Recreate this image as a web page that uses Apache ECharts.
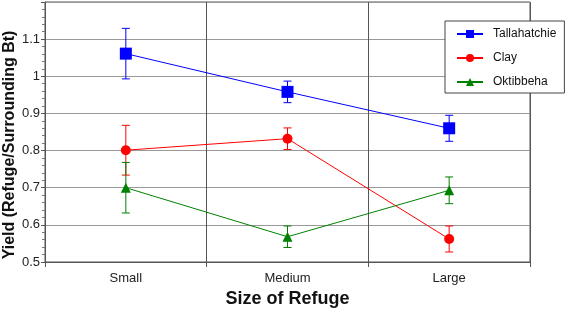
<!DOCTYPE html>
<html>
<head>
<meta charset="utf-8">
<script src="https://cdn.jsdelivr.net/npm/echarts@6/dist/echarts.min.js"></script>
<style>
  html, body { margin: 0; padding: 0; background: #fff; }
  #chart { width: 566px; height: 311px; }
</style>
</head>
<body>
<div id="chart"></div>
<script>
const categories = ['Small', 'Medium', 'Large']
const seriesNames = ['Tallahatchie', 'Clay', 'Oktibbeha']
const tallahatchie = [1.061, 0.958, 0.860]
const tallahatchieErr = [0.068, 0.029, 0.035]
const clay = [0.801, 0.832, 0.562]
const clayErr = [0.067, 0.029, 0.035]
const oktibbeha = [0.700, 0.568, 0.693]
const oktibbehaErr = [0.068, 0.029, 0.036]
const colors = ['#0000ff', '#ff0000', '#008000']
const font = 'Liberation Sans, Arial, sans-serif'

let chart = echarts.init(document.getElementById('chart'))

function errorSeries (values, errs, color) {
  return {
    type: 'custom',
    silent: true,
    z: 1,
    data: values.map((v, i) => [i, v - errs[i], v + errs[i]]),
    renderItem (params, api) {
      let lo = api.coord([api.value(0), api.value(1)])
      let hi = api.coord([api.value(0), api.value(2)])
      let w = 4
      let style = { stroke: color, lineWidth: 1 }
      return {
        type: 'group',
        children: [
          { type: 'line', shape: { x1: lo[0], y1: lo[1], x2: hi[0], y2: hi[1] }, style: style },
          { type: 'line', shape: { x1: lo[0] - w, y1: lo[1], x2: lo[0] + w, y2: lo[1] }, style: style },
          { type: 'line', shape: { x1: hi[0] - w, y1: hi[1], x2: hi[0] + w, y2: hi[1] }, style: style }
        ]
      }
    }
  }
}

function lineSeries (name, values, color, symbol, size) {
  return {
    name: name,
    type: 'line',
    z: 3,
    data: values,
    symbol: symbol,
    symbolSize: size,
    color: color,
    lineStyle: { color: color, width: 1 },
    itemStyle: { color: color }
  }
}

var option = {
  animation: false,
  textStyle: { fontFamily: font },
  grid: {
    left: 45,
    right: 36,
    top: 2,
    bottom: 49,
    outerBoundsMode: 'none',
    containLabel: false,
    show: true,
    borderColor: '#555',
    borderWidth: 1
  },
  legend: {
    data: seriesNames,
    orient: 'vertical',
    left: 445,
    top: 21,
    itemWidth: 26,
    itemHeight: 10,
    itemGap: 12,
    padding: [7, 8, 5, 11],
    backgroundColor: '#fff',
    borderColor: '#444',
    borderWidth: 1,
    textStyle: { fontFamily: font, fontSize: 12, color: '#111', padding: [0, 0, 0, 5] }
  },
  xAxis: {
    type: 'category',
    data: categories,
    name: 'Size of Refuge',
    nameLocation: 'middle',
    nameGap: 28,
    nameTextStyle: { fontFamily: font, fontSize: 18, fontWeight: 'bold', color: '#111' },
    axisLine: { lineStyle: { color: '#555' } },
    axisTick: { show: true, length: 5, lineStyle: { color: '#555' } },
    axisLabel: { fontFamily: font, fontSize: 13, color: '#222', margin: 10 },
    splitLine: { show: true, lineStyle: { color: '#555' } }
  },
  yAxis: {
    type: 'value',
    min: 0.5,
    max: 1.2,
    interval: 0.1,
    name: 'Yield (Refuge/Surrounding Bt)',
    nameLocation: 'middle',
    nameGap: 27,
    nameMoveOverlap: false,
    nameTextStyle: {
      fontFamily: font,
      fontSize: 16,
      fontWeight: 'bold',
      color: '#111',
      padding: [0, 26, 0, 0]
    },
    axisLine: { show: true, lineStyle: { color: '#555' } },
    axisTick: { show: true, length: 4, lineStyle: { color: '#555' } },
    minorTick: { show: true, splitNumber: 5, length: 3, lineStyle: { color: '#777' } },
    axisLabel: {
      fontFamily: font,
      fontSize: 13,
      color: '#222',
      margin: 5,
      formatter (v) { return v > 1.15 ? '' : String(Math.round(v * 10) / 10) }
    },
    splitLine: { show: true, lineStyle: { color: '#999' } }
  },
  series: [
    errorSeries(tallahatchie, tallahatchieErr, colors[0]),
    errorSeries(clay, clayErr, colors[1]),
    errorSeries(oktibbeha, oktibbehaErr, colors[2]),
    lineSeries(seriesNames[0], tallahatchie, colors[0], 'rect', 12),
    lineSeries(seriesNames[1], clay, colors[1], 'circle', 10),
    lineSeries(seriesNames[2], oktibbeha, colors[2], 'triangle', 10)
  ]
}
chart.setOption(option)
</script>
</body>
</html>
